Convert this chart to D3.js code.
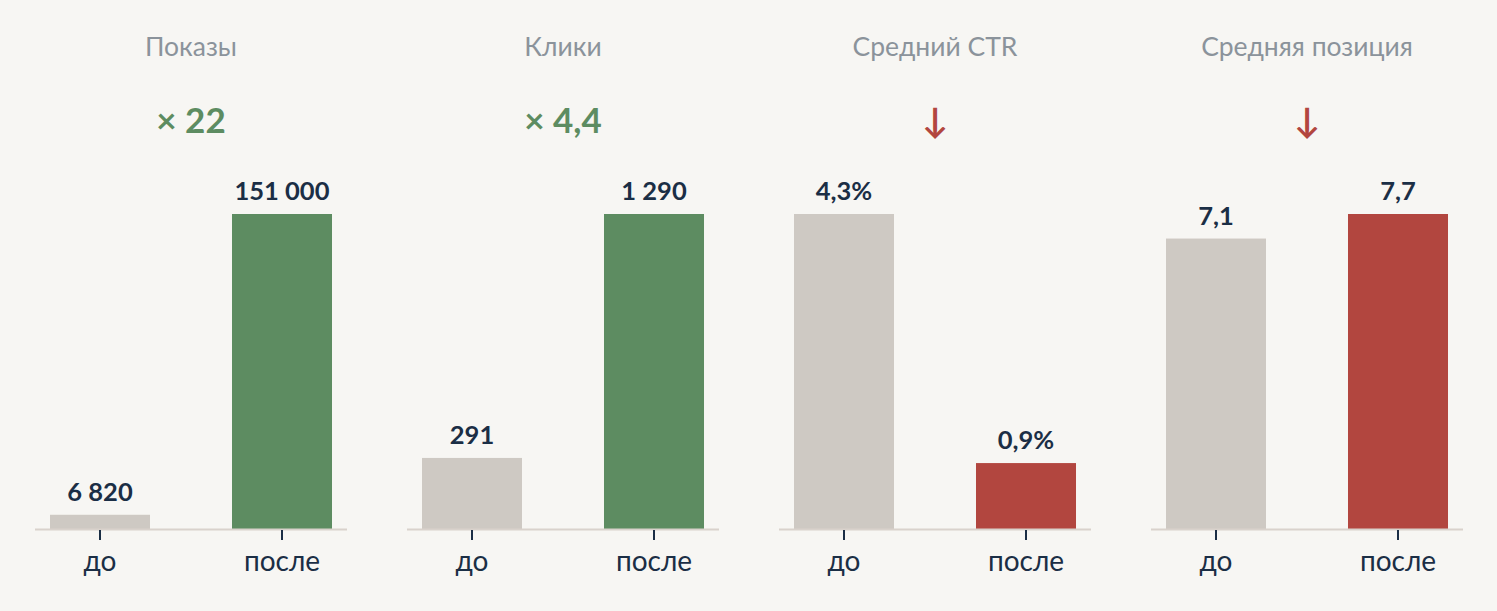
<!DOCTYPE html>
<html>
<head>
<meta charset="utf-8">
<script src="https://cdn.jsdelivr.net/npm/d3@7"></script>
<style>
  html, body { margin: 0; padding: 0; background: #f7f6f3; }
  svg { display: block; font-family: Lato, "Noto Sans", sans-serif; }
</style>
</head>
<body>
<svg id="chart" width="1497" height="611"></svg>
<script>
const metrics = ['Показы', 'Клики', 'Средний CTR', 'Средняя позиция'];
const periods = ['до', 'после'];
const beforeValues = [6820, 291, 4.3, 7.1];
const afterValues = [151000, 1290, 0.9, 7.7];
const beforeLabels = ['6 820', '291', '4,3%', '7,1'];
const afterLabels = ['151 000', '1 290', '0,9%', '7,7'];
const changeLabels = ['× 22', '× 4,4', '↓', '↓'];
const changeGood = [true, true, false, false];

const width = 1497, height = 611;
const baseY = 529, topY = 214;
const colors = { before: '#cec9c3', good: '#5d8c61', bad: '#b2463f', text: '#1b2e45', title: '#8b939b', axis: '#d9d2cc' };

const svg = d3.select('#chart');
svg.append('rect').attr('width', width).attr('height', height).attr('fill', '#f7f6f3');

// one panel per metric
const panelX = d3.scaleBand()
  .domain(metrics)
  .range([35, 1463])
  .paddingInner(60 / 372)
  .paddingOuter(0);

const x = d3.scaleBand()
  .domain(periods)
  .range([0, panelX.bandwidth()])
  .paddingInner(0.4505)
  .paddingOuter(0.0824);

metrics.forEach((m, i) => {
  const g = svg.append('g').attr('transform', `translate(${panelX(m)},0)`);
  const cx = panelX.bandwidth() / 2;
  const rows = [
    { p: periods[0], v: beforeValues[i], label: beforeLabels[i], color: colors.before },
    { p: periods[1], v: afterValues[i], label: afterLabels[i], color: changeGood[i] ? colors.good : colors.bad }
  ];

  const y = d3.scaleLinear()
    .domain([0, d3.max(rows, d => d.v)])
    .range([baseY, topY]);

  // title
  g.append('text')
    .attr('x', cx)
    .attr('y', 56)
    .attr('text-anchor', 'middle')
    .attr('fill', colors.title)
    .attr('font-size', '26.5px')
    .text(m);

  // change marker
  g.append('text')
    .attr('x', cx)
    .attr('y', 133)
    .attr('text-anchor', 'middle')
    .attr('fill', changeGood[i] ? colors.good : colors.bad)
    .attr('font-size', '35px')
    .attr('font-weight', 700)
    .text(changeLabels[i]);

  // bars
  g.selectAll('.bar')
    .data(rows)
    .join('rect')
    .attr('class', 'bar')
    .attr('x', d => x(d.p))
    .attr('y', d => y(d.v))
    .attr('width', x.bandwidth())
    .attr('height', d => baseY - y(d.v))
    .attr('fill', d => d.color);

  // value labels
  g.selectAll('.val')
    .data(rows)
    .join('text')
    .attr('class', 'val')
    .attr('x', d => x(d.p) + x.bandwidth() / 2)
    .attr('y', d => y(d.v) - 14)
    .attr('text-anchor', 'middle')
    .attr('fill', colors.text)
    .attr('font-size', '25.5px')
    .attr('font-weight', 700)
    .text(d => d.label);

  // baseline
  g.append('line')
    .attr('x1', 0)
    .attr('x2', panelX.bandwidth())
    .attr('y1', baseY + 0.5)
    .attr('y2', baseY + 0.5)
    .attr('stroke', colors.axis)
    .attr('stroke-width', 2);

  // x axis
  const ax = g.append('g')
    .attr('transform', `translate(0,${baseY + 1})`)
    .call(d3.axisBottom(x).tickSize(10));
  ax.select('.domain').remove();
  ax.selectAll('.tick line').attr('stroke', colors.text).attr('stroke-width', 2);
  ax.selectAll('.tick text')
    .attr('y', 41)
    .attr('dy', null)
    .attr('fill', colors.text)
    .attr('font-family', 'Lato, "Noto Sans", sans-serif')
    .attr('font-size', '28px');
});
</script>
</body>
</html>
